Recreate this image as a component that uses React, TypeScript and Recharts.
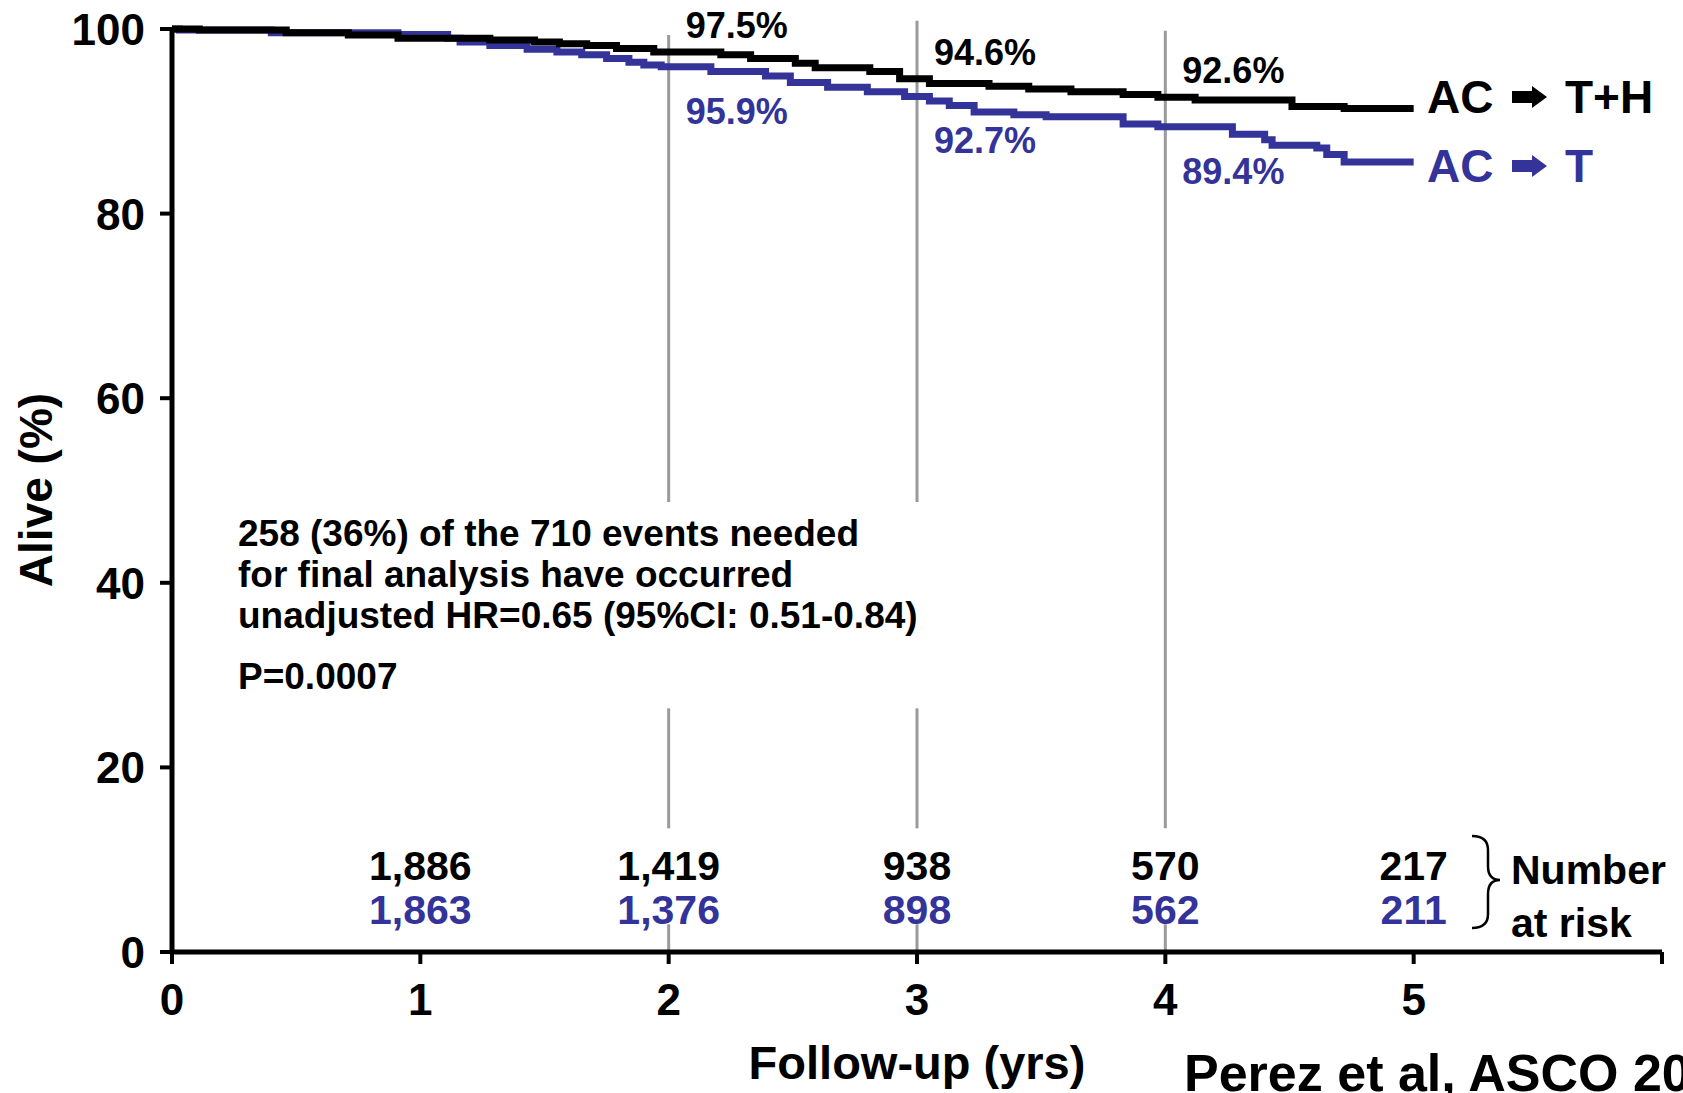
import React from 'react';
import {
  LineChart,
  Line,
  XAxis,
  YAxis,
  ReferenceLine,
  ReferenceDot,
  Customized,
} from 'recharts';

const FONT = '"Liberation Sans", Arial, Helvetica, sans-serif';
const BLUE = '#333399';
const GREY = '#9a9a9a';

// Kaplan-Meier overall survival, AC -> T+H (years, % alive)
const thYears = [0, 0.11, 0.46, 0.71, 0.91, 1.28, 1.46, 1.56, 1.67, 1.79, 1.94, 2.21, 2.33, 2.51, 2.59, 2.81, 2.93, 3.05, 3.29, 3.45, 3.62, 3.83, 3.97, 4.12, 4.51, 4.72, 5.0];
const thAlive = [100, 99.9, 99.6, 99.35, 99.0, 98.8, 98.6, 98.4, 98.2, 97.9, 97.5, 97.2, 96.8, 96.3, 95.8, 95.4, 94.6, 94.1, 93.8, 93.5, 93.2, 92.9, 92.6, 92.3, 91.6, 91.4, 91.4];

// AC -> T
const tYears = [0, 0.03, 0.4, 0.91, 1.11, 1.16, 1.28, 1.43, 1.55, 1.65, 1.75, 1.84, 1.9, 1.97, 2.17, 2.39, 2.49, 2.64, 2.8, 2.95, 3.05, 3.13, 3.23, 3.39, 3.52, 3.83, 3.97, 4.27, 4.4, 4.43, 4.61, 4.65, 4.72, 5.0];
const tAlive = [100, 99.9, 99.6, 99.4, 99.0, 98.6, 98.2, 97.8, 97.5, 97.2, 96.8, 96.4, 96.1, 95.9, 95.4, 94.9, 94.2, 93.7, 93.2, 92.7, 92.2, 91.7, 91.0, 90.7, 90.5, 89.7, 89.4, 88.6, 88.0, 87.4, 87.1, 86.4, 85.6, 85.6];

const xTicks = [0, 1, 2, 3, 4, 5, 6];
const yTicks = [0, 20, 40, 60, 80, 100];

// landmark survival rates
const landmarkYears = [2, 3, 4];
const thLandmark = [97.5, 94.6, 92.6];
const tLandmark = [95.9, 92.7, 89.4];

// number at risk
const riskYears = [1, 2, 3, 4, 5];
const thAtRisk = [1886, 1419, 938, 570, 217];
const tAtRisk = [1863, 1376, 898, 562, 211];

const thRows = thYears.map((t, i) => ({ t, alive: thAlive[i] }));
const tRows = tYears.map((t, i) => ({ t, alive: tAlive[i] }));

// vertical guides, broken where the text blocks sit
const guideSegments: Record<number, [number, number][]> = {
  2: [[99.35, 48.75], [26.4, 13.4], [3.0, 0]],
  3: [[100.9, 48.75], [26.4, 13.4], [3.0, 0]],
  4: [[99.8, 13.4], [3.0, 0]],
};

const CURVE_WIDTH = 7;

const bold = { fontFamily: FONT, fontWeight: 'bold' as const };

function YTick({ x, y, payload }: any) {
  return (
    <text x={x} y={y} dy={16} textAnchor="end" fontSize={44} fill="#000" {...bold}>
      {payload.value}
    </text>
  );
}

function XTick({ x, y, payload }: any) {
  if (payload.value === 6) return <g />;
  return (
    <text x={x} y={y} dy={51} textAnchor="middle" fontSize={44} fill="#000" {...bold}>
      {payload.value}
    </text>
  );
}

function Arrow({ x, y, color }: { x: number; y: number; color: string }) {
  return (
    <path
      d={`M${x},${y - 6} L${x + 20},${y - 6} L${x + 20},${y - 11} L${x + 35},${y} L${x + 20},${y + 11} L${x + 20},${y + 6} L${x},${y + 6} Z`}
      fill={color}
    />
  );
}

function Annotations() {
  return (
    <g {...bold}>
      <text x={52} y={490} fontSize={46} textAnchor="middle" transform="rotate(-90 52 490)" fill="#000">
        Alive (%)
      </text>
      <text x={917} y={1079} fontSize={47} textAnchor="middle" fill="#000">
        Follow-up (yrs)
      </text>
      <text x={1184} y={1091} fontSize={52} fill="#000">
        Perez et al, ASCO 2005
      </text>

      <g fontSize={37} fill="#000">
        <text x={238} y={546}>258 (36%) of the 710 events needed</text>
        <text x={238} y={587}>for final analysis have occurred</text>
        <text x={238} y={628}>unadjusted HR=0.65 (95%CI: 0.51-0.84)</text>
        <text x={238} y={689}>P=0.0007</text>
      </g>

      <g fontSize={46}>
        <text x={1427} y={113} fill="#000">AC</text>
        <Arrow x={1512} y={97} color="#000" />
        <text x={1565} y={113} fill="#000">T+H</text>
        <text x={1427} y={182} fill={BLUE}>AC</text>
        <Arrow x={1512} y={166} color={BLUE} />
        <text x={1565} y={182} fill={BLUE}>T</text>
      </g>

      <path
        d="M1472,836 Q1488,836 1488,850 L1488,866 Q1488,880 1500,880 Q1488,880 1488,894 L1488,914 Q1488,928 1472,928"
        fill="none"
        stroke="#000"
        strokeWidth={2.5}
      />
      <g fontSize={41} fill="#000">
        <text x={1511} y={884}>Number</text>
        <text x={1511} y={937}>at risk</text>
      </g>
    </g>
  );
}

export default function App() {
  return (
    <div style={{ position: 'absolute', left: 0, top: 0, width: 1683, height: 1093, background: '#fff' }}>
      <LineChart width={1683} height={1093} margin={{ top: 29, right: 21, bottom: 0, left: 0 }}>
        <XAxis
          dataKey="t"
          type="number"
          domain={[0, 6]}
          ticks={xTicks}
          interval={0}
          height={141}
          axisLine={{ stroke: '#000', strokeWidth: 5 }}
          tickLine={{ stroke: '#000', strokeWidth: 4 }}
          tickSize={12}
          tickMargin={0}
          tick={<XTick />}
          allowDecimals={false}
        />
        <YAxis
          type="number"
          domain={[0, 100]}
          ticks={yTicks}
          interval={0}
          width={172}
          axisLine={{ stroke: '#000', strokeWidth: 5 }}
          tickLine={{ stroke: '#000', strokeWidth: 4 }}
          tickSize={12}
          tickMargin={15}
          tick={<YTick />}
        />

        {landmarkYears.flatMap((yr) =>
          guideSegments[yr].map(([top, bottom], j) => (
            <ReferenceLine
              key={`guide-${yr}-${j}`}
              segment={[
                { x: yr, y: top },
                { x: yr, y: bottom },
              ]}
              stroke={GREY}
              strokeWidth={3}
              ifOverflow="visible"
            />
          )),
        )}

        <Line
          data={tRows}
          dataKey="alive"
          type="stepAfter"
          stroke={BLUE}
          strokeWidth={CURVE_WIDTH}
          style={{ strokeWidth: CURVE_WIDTH }}
          dot={false}
          activeDot={false}
          isAnimationActive={false}
        />
        <Line
          data={thRows}
          dataKey="alive"
          type="stepAfter"
          stroke="#000"
          strokeWidth={CURVE_WIDTH}
          style={{ strokeWidth: CURVE_WIDTH }}
          dot={false}
          activeDot={false}
          isAnimationActive={false}
        />

        {landmarkYears.map((yr, i) => (
          <ReferenceDot
            key={`th-pct-${yr}`}
            x={yr}
            y={thLandmark[i]}
            r={0}
            fill="none"
            stroke="none"
            label={(p: any) => (
              <text x={p.viewBox.x + 17} y={p.viewBox.y - 14} fontSize={36} fill="#000" {...bold}>
                {thLandmark[i].toFixed(1)}%
              </text>
            )}
          />
        ))}
        {landmarkYears.map((yr, i) => (
          <ReferenceDot
            key={`t-pct-${yr}`}
            x={yr}
            y={tLandmark[i]}
            r={0}
            fill="none"
            stroke="none"
            label={(p: any) => (
              <text x={p.viewBox.x + 17} y={p.viewBox.y + 57} fontSize={36} fill={BLUE} {...bold}>
                {tLandmark[i].toFixed(1)}%
              </text>
            )}
          />
        ))}

        {riskYears.map((yr, i) => (
          <ReferenceDot
            key={`risk-${yr}`}
            x={yr}
            y={0}
            r={0}
            fill="none"
            stroke="none"
            label={(p: any) => (
              <g fontSize={41} textAnchor="middle" {...bold}>
                <text x={p.viewBox.x} y={p.viewBox.y - 72} fill="#000">
                  {thAtRisk[i].toLocaleString('en-US')}
                </text>
                <text x={p.viewBox.x} y={p.viewBox.y - 28} fill={BLUE}>
                  {tAtRisk[i].toLocaleString('en-US')}
                </text>
              </g>
            )}
          />
        ))}

        <Customized component={<Annotations />} />
      </LineChart>
    </div>
  );
}
